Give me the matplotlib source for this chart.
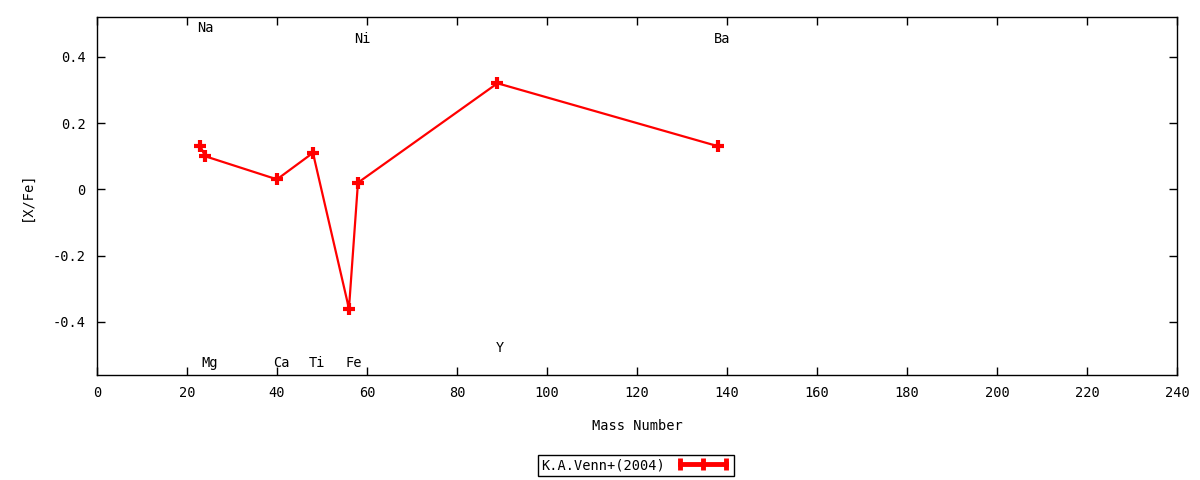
import numpy as np
import matplotlib.pyplot as plt
from matplotlib.lines import Line2D

# [X/Fe] abundances vs mass number
elements = ['Na', 'Mg', 'Ca', 'Ti', 'Fe', 'Ni', 'Y', 'Ba']
mass = [23, 24, 40, 48, 56, 58, 89, 138]
xfe = [0.13, 0.10, 0.03, 0.11, -0.36, 0.02, 0.32, 0.13]

# where the element names are written (x, y)
label_x = [24, 25, 41, 49, 57, 59, 89.5, 139]
label_y = [0.487, -0.523, -0.523, -0.523, -0.523, 0.454, -0.48, 0.454]

xticks = np.arange(0, 241, 20)
yticks = [-0.4, -0.2, 0, 0.2, 0.4]
ytick_labels = ['-0.4', '-0.2', '0', '0.2', '0.4']

plt.rcParams['font.family'] = ['DejaVu Sans Mono']
plt.rcParams['font.size'] = 9.8

fig = plt.figure(figsize=(12, 4.8), dpi=100)
ax = fig.add_axes([0.0808, 0.219, 0.9, 0.7456])

ax.plot(mass, xfe, color='red', lw=1.6, marker='+', ms=9, mew=3)

for name, lx, ly in zip(elements, label_x, label_y):
    ax.text(lx, ly, name, ha='center', va='center')

ax.set_xlim(0, 240)
ax.set_ylim(-0.56, 0.52)
ax.set_xticks(xticks)
ax.set_yticks(yticks)
ax.set_yticklabels(ytick_labels)
ax.tick_params(direction='in', top=True, right=True, length=6, width=1, pad=8)
for s in ax.spines.values():
    s.set_linewidth(1)

ax.set_xlabel('Mass Number', labelpad=14)
ax.set_ylabel('[X/Fe]', labelpad=14)

handle = Line2D([], [], color='red', lw=3.5, marker='|', ms=8, mew=3.5)
leg = fig.legend([handle], ['K.A.Venn+(2004)'], loc='center', bbox_to_anchor=(0.53, 0.031),
                 markerfirst=False, numpoints=3, fancybox=False, framealpha=1,
                 edgecolor='black', handlelength=4, borderpad=0.25, handletextpad=0.8)
leg.get_frame().set_linewidth(1)

fig.savefig('out.png', dpi=100)
